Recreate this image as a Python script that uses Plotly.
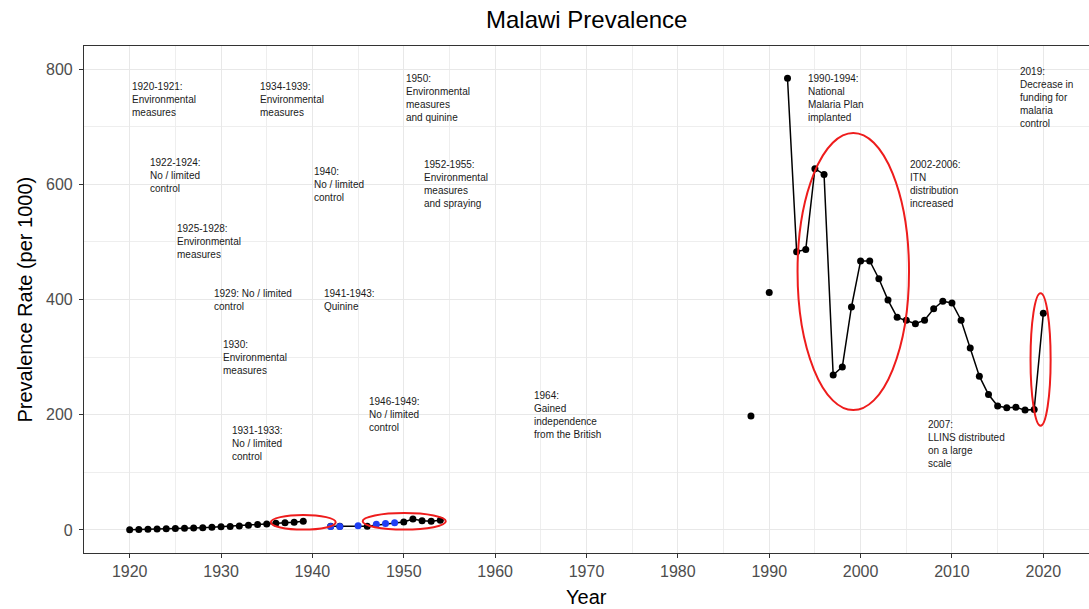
import plotly.graph_objects as go

# ---- data ----
years_early = list(range(1920, 1940))
prev_early = [0.5, 0.8, 1.2, 1.8, 2.2, 2.6, 3.0, 3.5, 4.0, 4.6,
              5.5, 6.0, 6.8, 8.0, 9.5, 10.5, 11.5, 12.5, 13.5, 15.0]

years_mid = [1942, 1943, 1946, 1950, 1951, 1952, 1953, 1954]
prev_mid = [6.5, 6.5, 6.5, 14.0, 19.0, 16.0, 15.0, 17.0]

years_blue = [1942, 1943, 1945, 1947, 1948, 1949]
prev_blue = [6.0, 6.0, 7.5, 10.0, 11.0, 12.5]

years_late = [1988, 1989, 1990, 1991, 1992, 1993, 1994, 1995, 1996, 1997, 1998,
              1999, 2000, 2001, 2002, 2003, 2004, 2005, 2006, 2007, 2008,
              2009, 2010, 2011, 2012, 2013, 2014, 2015, 2016, 2017, 2018,
              2019, 2020]
prev_late = [198, None, 412, None, 784, 483, 487, 627, 617, 269, 283,
             387, 467, 467, 436, 399, 369, 364, 358, 364, 384,
             397, 394, 364, 316, 267, 235, 215, 212, 213, 208,
             209, 376]

# event annotations: (year, value, text)
ann_years = [1920, 1934, 1950, 1922, 1940, 1952, 1925, 1929, 1941, 1930,
             1946, 1931, 1964, 1994, 2005.2, 2017.2, 2007.2]
ann_values = [747, 747, 749, 615, 600, 600, 500, 400, 400, 300,
              200, 150, 200, 750, 600, 750, 150]
ann_texts = [
    "1920-1921:<br>Environmental<br>measures",
    "1934-1939:<br>Environmental<br>measures",
    "1950:<br>Environmental<br>measures<br>and quinine",
    "1922-1924:<br>No / limited<br>control",
    "1940:<br>No / limited<br>control",
    "1952-1955:<br>Environmental<br>measures<br>and spraying",
    "1925-1928:<br>Environmental<br>measures",
    "1929: No / limited<br>control",
    "1941-1943:<br>Quinine",
    "1930:<br>Environmental<br>measures",
    "1946-1949:<br>No / limited<br>control",
    "1931-1933:<br>No / limited<br>control",
    "1964:<br>Gained<br>independence<br>from the British",
    "1990-1994:<br>National<br>Malaria Plan<br>implanted",
    "2002-2006:<br>ITN<br>distribution<br>increased",
    "2019:<br>Decrease in<br>funding for<br>malaria<br>control",
    "2007:<br>LLINS distributed<br>on a large<br>scale",
]

# highlight ellipses: (x0, x1, y0, y1) in data units
ellipse_x0 = [1935.45, 1945.5, 1993.1, 2018.6]
ellipse_x1 = [1942.55, 1954.6, 2005.3, 2020.8]
ellipse_y0 = [0.6, 0.6, 208, 181]
ellipse_y1 = [26, 29.4, 689, 411]

x_ticks = list(range(1920, 2021, 10))
y_ticks = [0, 200, 400, 600, 800]

FONT = "Liberation Sans, Arial, Helvetica, sans-serif"

fig = go.Figure()

for xs, ys in [(years_early, prev_early), (years_mid, prev_mid), (years_late, prev_late)]:
    fig.add_trace(go.Scatter(
        x=xs, y=ys, mode="lines+markers", connectgaps=False,
        line=dict(color="black", width=1.5),
        marker=dict(color="black", size=7),
        showlegend=False, hoverinfo="x+y"))

fig.add_trace(go.Scatter(
    x=years_blue, y=prev_blue, mode="markers",
    marker=dict(color="#1f3ff5", size=7),
    showlegend=False))

shapes = []
for x0, x1, y0, y1 in zip(ellipse_x0, ellipse_x1, ellipse_y0, ellipse_y1):
    shapes.append(dict(type="circle", xref="x", yref="y", x0=x0, x1=x1, y0=y0, y1=y1,
                       line=dict(color="#ee1c1c", width=2), layer="above"))

annotations = []
for xv, yv, t in zip(ann_years, ann_values, ann_texts):
    annotations.append(dict(x=xv, y=yv, xref="x", yref="y", text=t, showarrow=False,
                            xanchor="left", yanchor="middle", align="left",
                            font=dict(family=FONT, size=10, color="#1a1a1a")))

# titles as annotations (fixed placement)
annotations.append(dict(text="Malawi Prevalence", x=0.5, y=1.052, xref="paper", yref="paper",
                        xanchor="center", yanchor="middle", showarrow=False,
                        font=dict(family=FONT, size=24, color="black")))
annotations.append(dict(text="Year", x=0.5, y=-0.087, xref="paper", yref="paper",
                        xanchor="center", yanchor="middle", showarrow=False,
                        font=dict(family=FONT, size=20, color="black")))
annotations.append(dict(text="Prevalence Rate (per 1000)", x=-0.0597, y=0.5, xref="paper", yref="paper",
                        xanchor="center", yanchor="middle", showarrow=False, textangle=-90,
                        font=dict(family=FONT, size=20, color="black")))

fig.update_layout(
    width=1089, height=609,
    margin=dict(l=84, r=0, t=46, b=56, autoexpand=False),
    paper_bgcolor="white", plot_bgcolor="white",
    font=dict(family=FONT),
    shapes=shapes, annotations=annotations, showlegend=False,
)

fig.update_xaxes(
    range=[1915, 2025], tickvals=x_ticks, ticktext=[str(v) for v in x_ticks],
    showgrid=True, gridcolor="#E8E8E8", gridwidth=1.3,
    minor=dict(dtick=5, tick0=1915, showgrid=True, gridcolor="#EEEEEE", gridwidth=0.8),
    showline=True, linecolor="#333333", linewidth=1.2, mirror=True,
    ticks="outside", ticklen=4, tickwidth=1.2, tickcolor="#333333",
    tickfont=dict(family=FONT, size=16, color="#4D4D4D"),
    automargin=False, zeroline=False,
)
fig.update_yaxes(
    range=[-40, 840], tickvals=y_ticks, ticktext=[str(v) for v in y_ticks],
    showgrid=True, gridcolor="#E8E8E8", gridwidth=1.3,
    minor=dict(dtick=200, tick0=100, showgrid=True, gridcolor="#EEEEEE", gridwidth=0.8),
    showline=True, linecolor="#333333", linewidth=1.2,
    ticks="outside", ticklen=4, tickwidth=1.2, tickcolor="#333333",
    tickfont=dict(family=FONT, size=16, color="#4D4D4D"), ticklabelstandoff=3,
    automargin=False, zeroline=False,
)

fig.write_html("out.html", config={"displayModeBar": False},
               post_script="document.body.style.margin='0';document.body.style.overflow='hidden';")
